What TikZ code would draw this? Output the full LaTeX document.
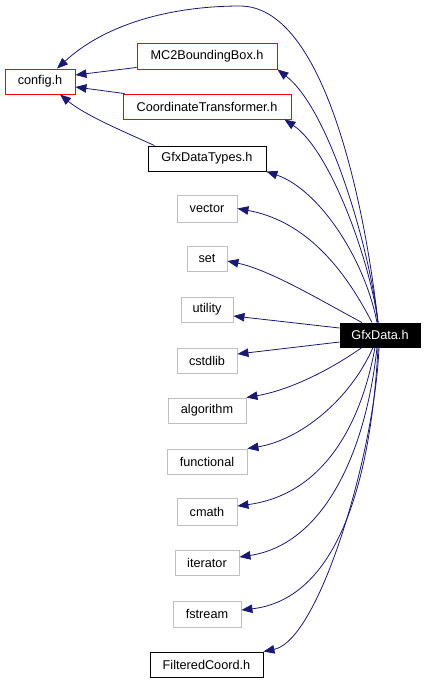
\documentclass[tikz,border=0pt]{standalone}
\usepackage{fontspec}
\setmainfont{Liberation Sans}
\usetikzlibrary{arrows.meta}
\definecolor{edgeblue}{RGB}{25,25,112}
\definecolor{boxgray}{RGB}{191,191,191}
\definecolor{boxred}{RGB}{255,0,0}
\begin{document}
\begin{tikzpicture}[x=1pt,y=-1pt,
  box/.style={draw, line width=0.9pt, inner sep=0pt, minimum height=25pt, font=\fontsize{12.7}{15}\selectfont},
  graybox/.style={box, draw=boxgray},
  redbox/.style={box, draw=boxred},
  blackbox/.style={box, draw=black},
  mainbox/.style={box, draw=black, fill=black, text=white, minimum height=24pt},
  edge/.style={draw=edgeblue, line width=0.8pt, -{Triangle[length=11pt,width=8.5pt]}, fill=none},
]
\useasboundingbox (0,0) rectangle (427,683);
% nodes
\node[redbox, minimum width=70pt] (config) at (40,81.5) {config.h};
\node[redbox, minimum width=140pt, minimum height=26pt] (mc2) at (207,56) {MC2BoundingBox.h};
\node[redbox, minimum width=168pt] (coord) at (207,106.5) {CoordinateTransformer.h};
\node[blackbox, minimum width=118pt] (types) at (207,158.5) {GfxDataTypes.h};
\node[graybox, minimum width=60pt, minimum height=27pt] (vector) at (207,208.5) {vector};
\node[graybox, minimum width=40pt] (set) at (207,258.5) {set};
\node[graybox, minimum width=52pt] (utility) at (207,309.5) {utility};
\node[graybox, minimum width=60pt] (cstdlib) at (207,360.5) {cstdlib};
\node[graybox, minimum width=78pt] (algorithm) at (207,410.5) {algorithm};
\node[graybox, minimum width=80pt] (functional) at (207,461.5) {functional};
\node[graybox, minimum width=60pt, minimum height=27pt] (cmath) at (207,512) {cmath};
\node[graybox, minimum width=64pt] (iterator) at (207,562.5) {iterator};
\node[graybox, minimum width=68pt, minimum height=26pt] (fstream) at (207,614) {fstream};
\node[blackbox, minimum width=113pt] (filtered) at (206.5,664.5) {FilteredCoord.h};
\node[mainbox, minimum width=80pt] (gfx) at (380,335) {GfxData.h};
% edges from GfxData.h
\draw[edge] ([xshift=-2pt]gfx.north) .. controls (368,230) and (330,6) .. (240,6)
  .. controls (180,6) and (110,20) .. ([xshift=17pt]config.north);
\draw[edge] ([xshift=-2pt]gfx.north) .. controls (370,250) and (330,110) .. (mc2.south east);
\draw[edge] ([xshift=-2pt]gfx.north) .. controls (370,260) and (330,150) .. ([xshift=-7pt]coord.south east);
\draw[edge] ([xshift=-3pt]gfx.north) .. controls (365,260) and (320,190) .. (types.south east);
\draw[edge] ([xshift=-8pt]gfx.north) .. controls (340,260) and (300,220) .. (vector.east);
\draw[edge] ([xshift=-18pt]gfx.north) .. controls (320,300) and (270,270) .. ([yshift=-2.5pt]set.east);
\draw[edge] ([yshift=7pt]gfx.west) -- ([yshift=-6.5pt]utility.east);
\draw[edge] ([yshift=-7pt]gfx.west) -- ([yshift=6.5pt]cstdlib.east);
\draw[edge] ([xshift=-18pt]gfx.south) .. controls (330,370) and (290,390) .. (algorithm.north east);
\draw[edge] ([xshift=-7pt]gfx.south) .. controls (350,400) and (300,440) .. (functional.north east);
\draw[edge] ([xshift=-5pt]gfx.south) .. controls (360,430) and (320,495) .. ([yshift=6pt]cmath.east);
\draw[edge] ([xshift=-3pt]gfx.south) .. controls (365,460) and (320,545) .. ([yshift=5.5pt]iterator.east);
\draw[edge] ([xshift=-2pt]gfx.south) .. controls (370,500) and (330,600) .. ([yshift=4pt]fstream.east);
\draw[edge] ([xshift=-1pt]gfx.south) .. controls (375,450) and (320,640) .. (filtered.north east);
% edges to config.h
\draw[edge] ([yshift=2pt]mc2.south west) -- ([yshift=6.5pt]config.east);
\draw[edge] ([xshift=2pt]coord.north west) -- ([yshift=-5.5pt]config.east);
\draw[edge] ([xshift=7pt]types.north west) .. controls (120,130) and (85,115) .. ([xshift=20pt]config.south);
\end{tikzpicture}
\end{document}
